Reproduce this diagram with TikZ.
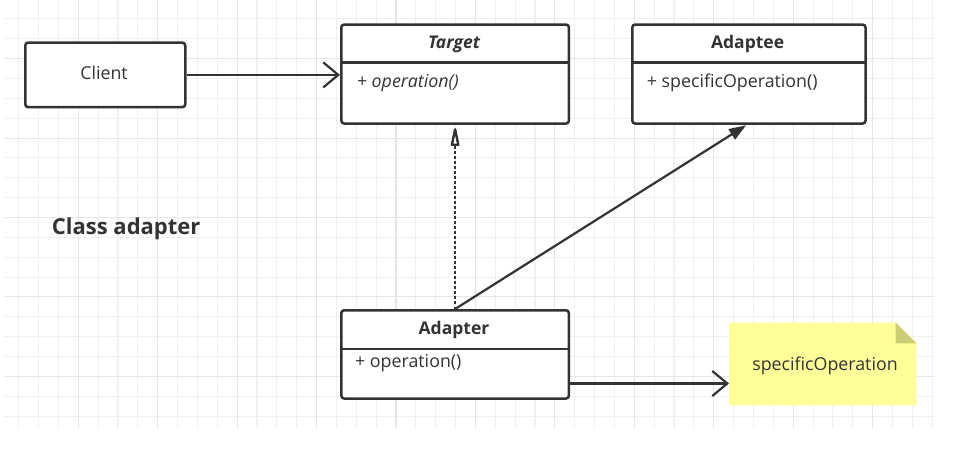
\documentclass[tikz,border=0pt]{standalone}
\usepackage{fontspec}
\setmainfont{Open Sans}
\usetikzlibrary{arrows.meta,calc}
\definecolor{ink}{HTML}{333333}
\definecolor{gridminor}{HTML}{F0F0F0}
\definecolor{gridmajor}{HTML}{E6E6E6}
\definecolor{notefill}{HTML}{FFFF99}
\definecolor{notefold}{HTML}{CDCD75}
\begin{document}
\begin{tikzpicture}[x=1pt,y=-1pt,
  umlbox/.style={draw=ink, line width=2.5pt, rounded corners=3pt, fill=white,
    inner sep=0pt, anchor=north west},
  divider/.style={draw=ink, line width=2.5pt},
  txt/.style={text=ink, inner sep=0pt, font=\fontsize{17.8}{21}\selectfont},
  headtxt/.style={txt, anchor=base, font=\fontsize{17.5}{21}\selectfont\bfseries},
  membertxt/.style={txt, anchor=base west},
  link/.style={draw=ink, line width=2.2pt},
  barb/.style={-{Straight Barb[length=15pt,width=25pt]}},
  hollowhead/.style={draw=ink, fill=white, line width=2.4pt, line join=round},
  assoc/.style={-{Triangle[length=17pt,width=12pt]}},
  dotline/.style={dash pattern=on 2.5pt off 2.5pt},
  gridline/.style={line width=1.1pt, draw=gridminor},
  gridbold/.style={line width=1.1pt, draw=gridmajor}
]
% canvas
\useasboundingbox (0,0) rectangle (959,457);
\fill[white] (0,0) rectangle (959,457);

% background grid
\foreach \i in {1,...,47}
  \draw[gridline] ({-1.2+19.86*\i},0) -- ({-1.2+19.86*\i},427.7);
\foreach \j in {0,...,20}
  \draw[gridline] (4,{18.9+19.86*\j}) -- (934,{18.9+19.86*\j});
\foreach \i in {4,8,...,44}
  \draw[gridbold] ({-1.2+19.86*\i},0) -- ({-1.2+19.86*\i},427.7);
\foreach \j in {2,6,10,14,18}
  \draw[gridbold] (4,{18.9+19.86*\j}) -- (934,{18.9+19.86*\j});

% classes
\node[umlbox, minimum width=160pt, minimum height=64.7pt] (client) at (24,41.3) {};
\node[txt, anchor=base] (clientname) at (104,80) {Client};

\node[umlbox, minimum width=227.7pt, minimum height=99pt] (target) at (340,23.3) {};
\draw[divider] ($(target.north west)+(0,39.4)$) -- ($(target.north east)+(0,39.4)$);
\node[headtxt] (targetname) at (454,49) {\itshape Target};
\node[membertxt] (targetop) at (356.7,87.5) {\itshape + operation()};

\node[umlbox, minimum width=233.3pt, minimum height=99pt] (adaptee) at (631,23.3) {};
\draw[divider] ($(adaptee.north west)+(0,39.4)$) -- ($(adaptee.north east)+(0,39.4)$);
\node[headtxt] (adapteename) at (747.6,49) {Adaptee};
\node[membertxt] (adapteeop) at (646.7,87.5) {+ specificOperation()};

\node[umlbox, minimum width=227.7pt, minimum height=88.3pt] (adapter) at (340,309) {};
\draw[divider] ($(adapter.north west)+(0,40)$) -- ($(adapter.north east)+(0,40)$);
\node[headtxt] (adaptername) at (454,334.5) {Adapter};
\node[membertxt] (adapterop) at (355,367) {+ operation()};

% note with folded corner
\node[inner sep=0pt, minimum width=187pt, minimum height=82.3pt, anchor=north west] (note) at (729,322.7) {};
\fill[notefill] (note.north west) -- ($(note.north east)+(-20.7,0)$)
  -- ($(note.north east)+(0,20.7)$) -- (note.south east) -- (note.south west) -- cycle;
\fill[notefold] ($(note.north east)+(-20.7,0)$) -- ($(note.north east)+(-20.7,20.7)$)
  -- ($(note.north east)+(0,20.7)$) -- cycle;
\node[txt, anchor=base] (notetext) at (825,370) {specificOperation};

% title
\node[text=ink, inner sep=0pt, anchor=base west, font=\fontsize{22}{26}\selectfont\bfseries]
  (title) at (51.7,235) {Class adapter};

% connectors
\draw[link, barb] (client.east) -- (client.east -| target.west);

% realization: dotted line with a hollow triangle head
\coordinate (realtip) at ($(target.south)+(0,4.5)$);
\coordinate (realbase) at ($(target.south)+(0,20)$);
\draw[link, dotline] (adapter.north) -- (realbase);
\draw[hollowhead] (realtip) -- ($(realbase)+(-3.2,0)$) -- ($(realbase)+(3.2,0)$) -- cycle;

\draw[link, assoc, shorten >=1pt] (adapter.north) -- ([xshift=-2pt]adaptee.south);
\coordinate (tap) at ($(adapter.south east)+(0,-16.3)$);
\draw[link, barb] (tap) -- (tap -| note.west);
\end{tikzpicture}
\end{document}
